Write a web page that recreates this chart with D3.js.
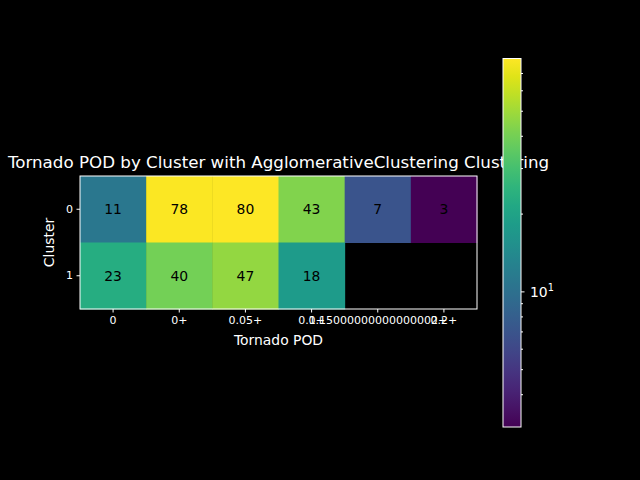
<!DOCTYPE html>
<html><head><meta charset="utf-8">
<script src="https://cdn.jsdelivr.net/npm/d3@7"></script>
<style>html,body{margin:0;padding:0;background:#000;}svg{display:block;}text{font-family:"DejaVu Sans",sans-serif;fill:#fff;}</style>
</head><body>
<script>
const clusters = ["0", "1"];
const podLabels = ["0", "0+", "0.05+", "0.1+", "0.15000000000000002+", "0.2+"];
const cluster0 = [11, 78, 80, 43, 7, 3];
const cluster1 = [23, 40, 47, 18, null, null];
const colorMin = 3, colorMax = 80;
const cbMajorTicks = [10];
const cbMinorTicks = [4, 5, 6, 7, 8, 9, 20, 30, 40, 50, 60, 70];

const rows = [cluster0, cluster1];
const cells = [];
rows.forEach((r, i) => r.forEach((v, j) => cells.push({c: clusters[i], p: podLabels[j], v})));

const W = 640, H = 480;
const svg = d3.select("body").append("svg").attr("width", W).attr("height", H);
svg.append("rect").attr("width", W).attr("height", H).attr("fill", "#000");

const x = d3.scaleBand().domain(podLabels).range([80, 477]);
const y = d3.scaleBand().domain(clusters).range([176, 309]);
const norm = d3.scaleLog().domain([colorMin, colorMax]).range([0, 1]).clamp(true);
const color = v => d3.interpolateViridis(norm(v));

const g = svg.append("g");
g.selectAll("rect.cell").data(cells.filter(d => d.v != null)).join("rect")
  .attr("class", "cell")
  .attr("x", d => x(d.p)).attr("y", d => y(d.c))
  .attr("width", x.bandwidth() + 0.5).attr("height", y.bandwidth() + 0.5)
  .attr("fill", d => color(d.v));
g.selectAll("text.ann").data(cells.filter(d => d.v != null)).join("text")
  .attr("class", "ann")
  .attr("x", d => x(d.p) + x.bandwidth() / 2).attr("y", d => y(d.c) + y.bandwidth() / 2)
  .attr("text-anchor", "middle").attr("dominant-baseline", "central")
  .style("fill", "#000").style("font-size", "13.9px")
  .text(d => d.v);

// frame
svg.append("rect").attr("x", 80).attr("y", 176).attr("width", 397).attr("height", 133)
  .attr("fill", "none").attr("stroke", "#fff").attr("stroke-width", 1);

// x axis
const xa = svg.append("g").attr("transform", "translate(0,309)")
  .call(d3.axisBottom(x).tickSize(3.5).tickPadding(3.5));
xa.select(".domain").remove();
xa.selectAll("line").attr("stroke", "#fff");
xa.selectAll("text").style("font-size", "11px").style("fill", "#fff").attr("font-family", null);

const ya = svg.append("g").attr("transform", "translate(80,0)")
  .call(d3.axisLeft(y).tickSize(3.5).tickPadding(3.5));
ya.select(".domain").remove();
ya.selectAll("line").attr("stroke", "#fff");
ya.selectAll("text").style("font-size", "11px").style("fill", "#fff").attr("font-family", null);

svg.append("text").attr("x", 278.5).attr("y", 345).attr("text-anchor", "middle")
  .style("font-size", "13.9px").text("Tornado POD");
svg.append("text").attr("transform", "translate(54,242.5) rotate(-90)").attr("text-anchor", "middle")
  .style("font-size", "13.9px").text("Cluster");
svg.append("text").attr("x", 278.5).attr("y", 168).attr("text-anchor", "middle")
  .style("font-size", "16.7px").text("Tornado POD by Cluster with AgglomerativeClustering Clustering");

// colorbar
const cbX = 503, cbW = 18;
const cy = d3.scaleLog().domain([colorMin, colorMax]).range([427, 58.5]);
const defs = svg.append("defs");
const grad = defs.append("linearGradient").attr("id", "cb").attr("x1", 0).attr("y1", 1).attr("x2", 0).attr("y2", 0);
d3.range(0, 1.0001, 0.05).forEach(t => grad.append("stop").attr("offset", t).attr("stop-color", d3.interpolateViridis(t)));
svg.append("rect").attr("x", cbX).attr("y", cy(colorMax)).attr("width", cbW).attr("height", cy(colorMin) - cy(colorMax))
  .attr("fill", "url(#cb)").attr("stroke", "#fff").attr("stroke-width", 1);
const cbg = svg.append("g");
cbg.selectAll("line.min").data(cbMinorTicks).join("line").attr("class", "min")
  .attr("x1", cbX + cbW).attr("x2", cbX + cbW + 2).attr("y1", d => cy(d)).attr("y2", d => cy(d)).attr("stroke", "#fff");
cbg.selectAll("line.maj").data(cbMajorTicks).join("line").attr("class", "maj")
  .attr("x1", cbX + cbW).attr("x2", cbX + cbW + 3.5).attr("y1", d => cy(d)).attr("y2", d => cy(d)).attr("stroke", "#fff");
const lbl = cbg.selectAll("text.maj").data(cbMajorTicks).join("text").attr("class", "maj")
  .attr("x", cbX + cbW + 9).attr("y", d => cy(d) + 5).style("font-size", "13.9px");
lbl.append("tspan").text("10");
lbl.append("tspan").attr("dy", -6).style("font-size", "9.7px").text(d => Math.round(Math.log10(d)));
</script>
</body></html>
